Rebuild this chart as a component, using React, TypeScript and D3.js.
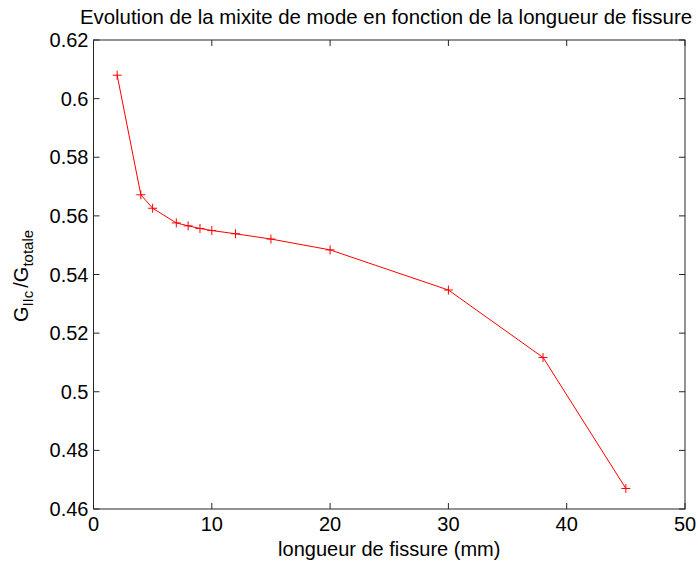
import React from "react";
import * as d3 from "d3";

// crack length (mm) and mode mixity G_IIc / G_totale
const lengths = [2, 4, 5, 7, 8, 9, 10, 12, 15, 20, 30, 38, 45];
const ratios = [0.608, 0.5672, 0.5626, 0.5576, 0.5566, 0.5557, 0.5550, 0.5539, 0.5521, 0.5484, 0.5347, 0.5117, 0.4670];
const xTicks = [0, 10, 20, 30, 40, 50];
const yTicks = [0.46, 0.48, 0.5, 0.52, 0.54, 0.56, 0.58, 0.6, 0.62];

const W = 698;
const H = 561;
const m = { left: 93.5, right: 685, top: 40, bottom: 509 };
const font = "'Liberation Sans', Arial, Helvetica, sans-serif";
const axisColor = "#262626";

export default function App() {
  const x = d3.scaleLinear().domain([0, 50]).range([m.left, m.right]);
  const y = d3.scaleLinear().domain([0.46, 0.62]).range([m.bottom, m.top]);
  const line = d3
    .line<number>()
    .x((_, i) => x(lengths[i]))
    .y((d) => y(d));
  const tick = 6;
  const fmt = (v: number) => String(+v.toFixed(2));

  return (
    <svg
      width={W}
      height={H}
      style={{ position: "absolute", left: 0, top: 0, background: "#fff" }}
      fontFamily={font}
    >
      <rect x={0} y={0} width={W} height={H} fill="#fff" />
      <text x={386} y={24} fontSize={20.4} textAnchor="middle" fill="#000">
        Evolution de la mixite de mode en fonction de la longueur de fissure
      </text>

      {/* box */}
      <rect
        x={m.left}
        y={m.top}
        width={m.right - m.left}
        height={m.bottom - m.top}
        fill="none"
        stroke={axisColor}
        strokeWidth={1}
      />

      {xTicks.map((t) => (
        <g key={"x" + t}>
          <line x1={x(t)} x2={x(t)} y1={m.bottom} y2={m.bottom - tick} stroke={axisColor} />
          <line x1={x(t)} x2={x(t)} y1={m.top} y2={m.top + tick} stroke={axisColor} />
          <text x={x(t)} y={m.bottom + 22} fontSize={20} textAnchor="middle" fill="#000">
            {t}
          </text>
        </g>
      ))}

      {yTicks.map((t) => (
        <g key={"y" + t}>
          <line x1={m.left} x2={m.left + tick} y1={y(t)} y2={y(t)} stroke={axisColor} />
          <line x1={m.right} x2={m.right - tick} y1={y(t)} y2={y(t)} stroke={axisColor} />
          <text x={m.left - 5} y={y(t) + 7} fontSize={20} textAnchor="end" fill="#000">
            {fmt(t)}
          </text>
        </g>
      ))}

      <text x={(m.left + m.right) / 2} y={556} fontSize={20} textAnchor="middle" fill="#000">
        longueur de fissure (mm)
      </text>

      <text transform={`translate(28,276) rotate(-90)`} fontSize={20} textAnchor="middle" fill="#000">
        G
        <tspan fontSize={15} dy={5}>IIc</tspan>
        <tspan dy={-5} dx={3}>/G</tspan>
        <tspan fontSize={15} dy={5}>totale</tspan>
      </text>

      <path d={line(ratios) ?? ""} fill="none" stroke="#ff0000" strokeWidth={1} />
      {ratios.map((r, i) => (
        <g key={"p" + i} stroke="#ff0000" strokeWidth={1}>
          <line x1={x(lengths[i]) - 4.5} x2={x(lengths[i]) + 4.5} y1={y(r)} y2={y(r)} />
          <line x1={x(lengths[i])} x2={x(lengths[i])} y1={y(r) - 4.5} y2={y(r) + 4.5} />
        </g>
      ))}
    </svg>
  );
}
